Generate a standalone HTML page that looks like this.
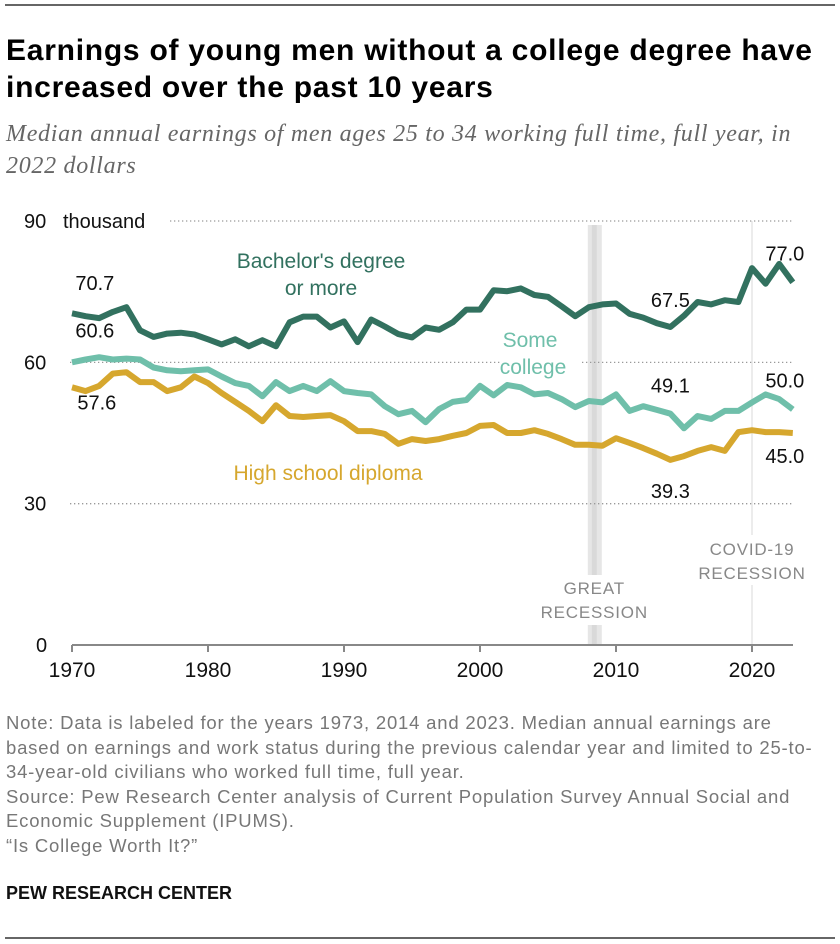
<!DOCTYPE html>
<html><head><meta charset="utf-8"><style>
body{margin:0;background:#fff;width:840px;height:944px;position:relative;font-family:"Liberation Sans",sans-serif;overflow:hidden}
.abs{position:absolute}
#title{left:6px;top:32px;font-size:30px;letter-spacing:0.75px;font-weight:bold;line-height:37px;color:#000;width:834px;white-space:nowrap}
#sub{left:6px;top:118px;font-family:"Liberation Serif",serif;font-style:italic;font-size:24px;letter-spacing:0.7px;line-height:32px;color:#666;width:834px;white-space:nowrap}
#note{left:6px;top:711px;font-size:18.5px;letter-spacing:0.8px;line-height:24.5px;color:#777;width:834px;white-space:nowrap}
#brand{left:6px;top:883px;font-size:18px;font-weight:bold;color:#111}
</style></head><body>
<div class="abs" style="left:5px;top:4px;width:830px;height:2px;background:#666"></div>
<div class="abs" id="title">Earnings of young men without a college degree have<br>increased over the past 10 years</div>
<div class="abs" id="sub">Median annual earnings of men ages 25 to 34 working full time, full year, in<br>2022 dollars</div>
<svg class="abs" style="left:0;top:0" width="840" height="700" id="chart"></svg>
<div class="abs" id="note">Note: Data is labeled for the years 1973, 2014 and 2023. Median annual earnings are<br>based on earnings and work status during the previous calendar year and limited to 25-to-<br>34-year-old civilians who worked full time, full year.<br>Source: Pew Research Center analysis of Current Population Survey Annual Social and<br>Economic Supplement (IPUMS).<br>“Is College Worth It?”</div>
<div class="abs" id="brand">PEW RESEARCH CENTER</div>
<div class="abs" style="left:5px;top:937px;width:830px;height:2px;background:#666"></div>
<script>
const years=[];for(let y=1970;y<=2023;y++)years.push(y);
const bachelor=[70.4,69.8,69.4,70.7,71.7,66.8,65.4,66.1,66.3,65.9,64.9,63.8,64.9,63.4,64.7,63.4,68.5,69.7,69.7,67.4,68.7,64.3,69.1,67.6,66.0,65.3,67.4,66.9,68.5,71.2,71.2,75.3,75.1,75.7,74.3,73.9,71.9,69.8,71.7,72.3,72.5,70.3,69.5,68.3,67.5,69.9,72.8,72.3,73.2,72.8,80.0,76.7,80.9,77.0];
const someCollege=[60.0,60.6,61.1,60.6,60.8,60.6,58.9,58.3,58.1,58.3,58.5,57.0,55.6,55.0,52.8,55.8,53.9,55.0,53.9,56.0,53.9,53.5,53.2,50.7,49.0,49.7,47.3,50.1,51.6,52.0,55.0,53.0,55.2,54.7,53.2,53.5,52.2,50.5,51.8,51.5,53.2,49.7,50.7,49.9,49.1,46.0,48.6,48.0,49.7,49.7,51.5,53.2,52.2,50.0];
const highSchool=[54.7,53.9,55.0,57.6,57.9,55.8,55.8,53.9,54.7,57.0,55.6,53.5,51.6,49.7,47.5,50.9,48.6,48.4,48.6,48.8,47.5,45.4,45.4,44.8,42.7,43.7,43.3,43.7,44.4,45.0,46.5,46.7,45.0,45.0,45.6,44.8,43.7,42.5,42.5,42.3,43.9,42.9,41.8,40.6,39.3,40.1,41.2,42.0,41.2,45.2,45.6,45.2,45.2,45.0];
const yTicks=[0,30,60,90];
const xTicks=[1970,1980,1990,2000,2010,2020];
const NS="http://www.w3.org/2000/svg";
const svg=document.getElementById('chart');
const X=y=>72+(y-1970)*13.6;
const Y=v=>645-v*4.711;
function el(tag,attrs,parent){const e=document.createElementNS(NS,tag);for(const k in attrs)e.setAttribute(k,attrs[k]);(parent||svg).appendChild(e);return e;}
function txt(s,x,y,attrs){const t=el('text',Object.assign({x:x,y:y,'font-family':'Liberation Sans, sans-serif','font-size':19},attrs));t.textContent=s;return t;}
let g=el('rect',{x:X(2008)-1,y:Y(90)+4,width:14,height:645-Y(90)-4,fill:'#e6e6e6'});


el('rect',{x:X(2008)+3,y:Y(90)+4,width:5,height:645-Y(90)-4,fill:'#d9d9d9'});
let c=el('line',{x1:X(2020),x2:X(2020),y1:Y(90),y2:645,stroke:'#ececec','stroke-width':2});


el('rect',{x:535,y:575,width:120,height:50,fill:'#fff'});
el('rect',{x:692,y:535,width:125,height:50,fill:'#fff'});
yTicks.forEach(v=>{
  if(v>0){const l=el('line',{x1:v==90?170:70,x2:793,y1:Y(v),y2:Y(v),stroke:'#999','stroke-width':1.3,'stroke-dasharray':'1.3 2.7'});
  
  }
  const t=txt(String(v),v==0?36:24,Y(v)+7,{fill:'#111','font-size':20});
  
  
});
const th=txt('thousand',63,Y(90)+7,{fill:'#111','font-size':20});


el('rect',{x:500,y:350,width:80,height:30,fill:'#fff'});
const ax=el('line',{x1:72,x2:793,y1:645,y2:645,stroke:'#888','stroke-width':2});


xTicks.forEach(y=>{
  el('line',{x1:X(y),x2:X(y),y1:645,y2:652,stroke:'#888','stroke-width':2});
  const t=txt(String(y),X(y),677,{fill:'#111','text-anchor':'middle','font-size':21});
  
  
});
[['GREAT',X(2008.4),594],['RECESSION',X(2008.4),618],['COVID-19',X(2020),555],['RECESSION',X(2020),579]].forEach(a=>{
  const t=txt(a[0],a[1],a[2],{fill:'#888','text-anchor':'middle','font-size':17,'letter-spacing':'0.8'});
  
  
});
function series(vals,color,name){
  const d=vals.map((v,i)=>(i?'L':'M')+X(years[i]).toFixed(1)+' '+Y(v).toFixed(1)).join(' ');
  const p=el('path',{d:d,fill:'none',stroke:color,'stroke-width':6,'stroke-linejoin':'round','stroke-linecap':'butt'});
  
  
}
series(highSchool,'#d6a72e','high-school-line');
series(someCollege,'#6fbfaa','some-college-line');
series(bachelor,'#32715f','bachelor-line');
function val(i,arr,dy,anchor,dx){
  const t=txt(arr[i].toFixed(1),X(years[i])+(dx||0),Y(arr[i])+dy,{fill:'#111','font-size':20,'text-anchor':anchor||'middle'});
  
  
}
val(3,bachelor,-22,'middle',-18);
val(3,someCollege,-22,'middle',-18);
val(3,highSchool,36,'middle',-16);
val(44,bachelor,-20);val(44,someCollege,-21);val(44,highSchool,38);
val(53,bachelor,-22,'middle',-8);val(53,someCollege,-22,'middle',-8);val(53,highSchool,30,'middle',-8);
[['Bachelor\'s degree',321,268,'#32715f'],['or more',321,295,'#32715f'],['Some',530,347,'#6fbfaa'],['college',533,374,'#6fbfaa'],['High school diploma',328,480,'#d6a72e']].forEach(a=>{
  const t=txt(a[0],a[1],a[2],{fill:a[3],'text-anchor':'middle','font-size':21});
  
  
});
</script>
</body></html>
